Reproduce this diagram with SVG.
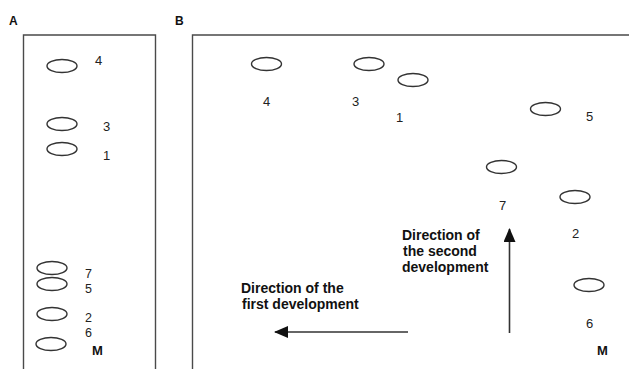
<svg xmlns="http://www.w3.org/2000/svg" width="629" height="369" viewBox="0 0 629 369">
<style>
.frame{fill:none;stroke:#4a4a4a;stroke-width:1.4}
.spot{fill:none;stroke:#333;stroke-width:1.4}
.num{font-family:"Liberation Sans",Arial,sans-serif;font-size:13px;fill:#222}
.numA{font-size:12.5px}
.bold{font-family:"Liberation Sans",Arial,sans-serif;font-weight:bold;fill:#111}
.panel{font-size:12px}
.dir{font-size:14px}
.arrow{stroke:#333;stroke-width:1.6;fill:none}
</style>
<defs>
<marker id="head" viewBox="0 0 14 12" refX="13" refY="6" markerWidth="14" markerHeight="12" markerUnits="userSpaceOnUse" orient="auto">
<path d="M0,0 L14,6 L0,12 Z" fill="#111"/>
</marker>
</defs>
<rect width="629" height="369" fill="#fff"/>
<g id="panelA">
<text class="bold panel" x="9" y="25">A</text>
<path class="frame" d="M23.5,370 V35 H155.5 V370"/>
<g id="A4"><ellipse class="spot" cx="62" cy="66" rx="15" ry="6.5"/><text class="num" x="95" y="65">4</text></g>
<g id="A3"><ellipse class="spot" cx="62" cy="124" rx="15" ry="6.5"/><text class="num" x="103" y="131">3</text></g>
<g id="A1"><ellipse class="spot" cx="62" cy="149" rx="15" ry="6.5"/><text class="num" x="103" y="160">1</text></g>
<g id="A7"><ellipse class="spot" cx="52" cy="268" rx="15" ry="6.5"/><text class="num numA" x="85" y="278">7</text></g>
<g id="A5"><ellipse class="spot" cx="52" cy="284" rx="15" ry="6.5"/><text class="num numA" x="85" y="293">5</text></g>
<g id="A2"><ellipse class="spot" cx="52" cy="314" rx="15" ry="6.5"/><text class="num numA" x="85" y="322">2</text></g>
<g id="A6"><text class="num numA" x="85" y="337">6</text></g>
<g id="AM"><ellipse class="spot" cx="51" cy="344" rx="15" ry="6.5"/><text class="bold" style="font-size:13px" x="92" y="355">M</text></g>
</g>
<g id="panelB">
<text class="bold panel" x="175" y="25">B</text>
<path class="frame" d="M192.5,370 V35 H630"/>
<g id="B4"><ellipse class="spot" cx="266.5" cy="64" rx="15" ry="6.5"/><text class="num" x="263" y="106">4</text></g>
<g id="B3"><ellipse class="spot" cx="369" cy="64" rx="15" ry="6.5"/><text class="num" x="352" y="106">3</text></g>
<g id="B1"><ellipse class="spot" cx="413" cy="80" rx="15" ry="6.5"/><text class="num" x="396" y="122">1</text></g>
<g id="B5"><ellipse class="spot" cx="545.5" cy="109" rx="15" ry="6.5"/><text class="num" x="586" y="121">5</text></g>
<g id="B7"><ellipse class="spot" cx="501.5" cy="167" rx="15" ry="6.5"/><text class="num" x="499" y="210">7</text></g>
<g id="B2"><ellipse class="spot" cx="575" cy="197" rx="15" ry="6.5"/><text class="num" x="572" y="238">2</text></g>
<g id="B6"><ellipse class="spot" cx="589" cy="285" rx="15" ry="6.5"/><text class="num" x="586" y="328">6</text></g>
<g id="BM"><text class="bold" style="font-size:13px" x="597" y="355">M</text></g>
<g id="label1"><text class="bold dir" x="241" y="293">Direction of the</text><text class="bold dir" x="242" y="309">first development</text></g>
<g id="label2"><text class="bold dir" x="402" y="240">Direction of</text><text class="bold dir" x="403" y="256">the second</text><text class="bold dir" x="402" y="272">development</text></g>
</g>
<g id="connectors">
<line class="arrow" x1="408" y1="332" x2="275" y2="332" marker-end="url(#head)"/>
<line class="arrow" x1="509.5" y1="333" x2="509.5" y2="229" marker-end="url(#head)"/>
</g>
</svg>
